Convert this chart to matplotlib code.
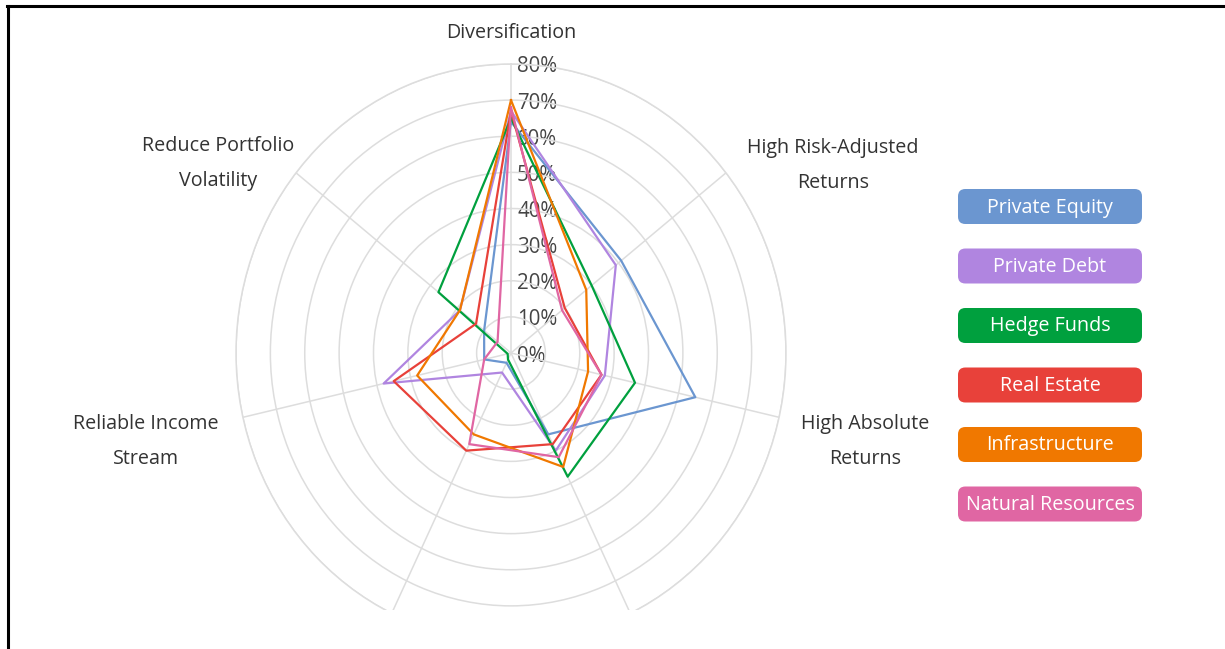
import numpy as np
import matplotlib.pyplot as plt
from matplotlib.patches import FancyBboxPatch, Rectangle
from matplotlib.lines import Line2D

plt.rcParams['font.family'] = ['Open Sans', 'DejaVu Sans']

# axis labels (the two bottom ones are cut off in the original)
categories = ["Diversification", "High Risk-Adjusted\nReturns", "High Absolute\nReturns",
              "", "", "Reliable Income\nStream", "Reduce Portfolio\nVolatility"]

series_names = ["Private Equity", "Private Debt", "Hedge Funds",
                "Real Estate", "Infrastructure", "Natural Resources"]
series_colors = ["#6b96d0", "#b085e0", "#00a03e", "#e8413a", "#f07800", "#e066a3"]

private_equity = [64, 41, 55, 25, 3, 8, 10]
private_debt = [67, 39, 28, 30, 6, 38, 19]
hedge_funds = [65, 30, 37, 38, 2, 1, 27]
real_estate = [67, 20, 27, 28, 30, 35, 13]
infrastructure = [70, 28, 23, 35, 25, 28, 19]
natural_resources = [68, 19, 27, 32, 28, 8, 5]

ticks = [0, 10, 20, 30, 40, 50, 60, 70, 80]
tick_labels = [f"{t}%" for t in ticks]

all_series = [private_equity, private_debt, hedge_funds,
              real_estate, infrastructure, natural_resources]

W, H = 1225, 649
fig = plt.figure(figsize=(W / 100, H / 100), dpi=100)

# polar area, slightly squashed horizontally like the source screenshot
ax = fig.add_axes([236 / W, (H - 642) / H, 550 / W, 578 / H], projection='polar')
ax.set_aspect('auto')
ax.set_theta_zero_location('N')
ax.set_theta_direction(-1)

n = len(categories)
angles = np.linspace(0, 2 * np.pi, n, endpoint=False)

for vals, color in zip(all_series, series_colors):
    a = np.append(angles, angles[0])
    v = np.append(vals, vals[0])
    ax.plot(a, v, color=color, linewidth=1.6, zorder=3)

ax.set_ylim(0, ticks[-1])
ax.set_yticks(ticks)
ax.set_yticklabels([])
ax.set_xticks(angles)
ax.set_xticklabels([])
ax.grid(True, color='#dddddd', linewidth=1.1, zorder=0)
ax.spines['polar'].set_color('#dddddd')
ax.spines['polar'].set_linewidth(1.1)
ax.tick_params(length=0)

for t, lab in zip(ticks, tick_labels):
    ax.annotate(lab, xy=(0, t), xytext=(6, -3), textcoords='offset pixels',
                ha='left', va='center', fontsize=14.8, color='#444444', zorder=1.5)

# axis label offsets from ring end (pixels)
label_offsets = [(0, 31), (107, 7), (86, -24), (0, -30), (0, -30), (-97, -24), (-78, 9)]
for ang, lab, (dx, dy) in zip(angles, categories, label_offsets):
    if not lab:
        continue
    ax.annotate(lab, xy=(ang, ticks[-1]), xytext=(dx, dy), textcoords='offset pixels',
                ha='center', va='center', multialignment='center',
                fontsize=14.2, color='#333333', linespacing=2.0, annotation_clip=False)

# chart is cut off at the bottom
fig.add_artist(Rectangle((10 / W, 0), 1, 39 / H, transform=fig.transFigure,
                         facecolor='white', edgecolor='none', zorder=10))

# legend boxes
box_x0, box_x1 = 958, 1142
box_h = 35
first_y, step = 206.5, 59.5
for i, (name, color) in enumerate(zip(series_names, series_colors)):
    cy = first_y + i * step
    box = FancyBboxPatch(((box_x0) / W, (H - cy - box_h / 2) / H),
                         (box_x1 - box_x0) / W, box_h / H,
                         boxstyle="round,pad=0,rounding_size=0.006",
                         transform=fig.transFigure, facecolor=color,
                         edgecolor='none', zorder=11, mutation_aspect=W / H)
    fig.add_artist(box)
    fig.text((box_x0 + box_x1) / 2 / W, (H - cy - 1) / H, name, ha='center', va='center',
             color='white', fontsize=14.2, zorder=12)

# frame lines at the top and left
fig.add_artist(Line2D([7 / W, 1], [1 - 6 / H, 1 - 6 / H], transform=fig.transFigure,
                      color='black', linewidth=2.2, zorder=12))
fig.add_artist(Line2D([8 / W, 8 / W], [0, 1 - 6 / H], transform=fig.transFigure,
                      color='black', linewidth=2.2, zorder=12))

fig.savefig("out.png", dpi=100)
